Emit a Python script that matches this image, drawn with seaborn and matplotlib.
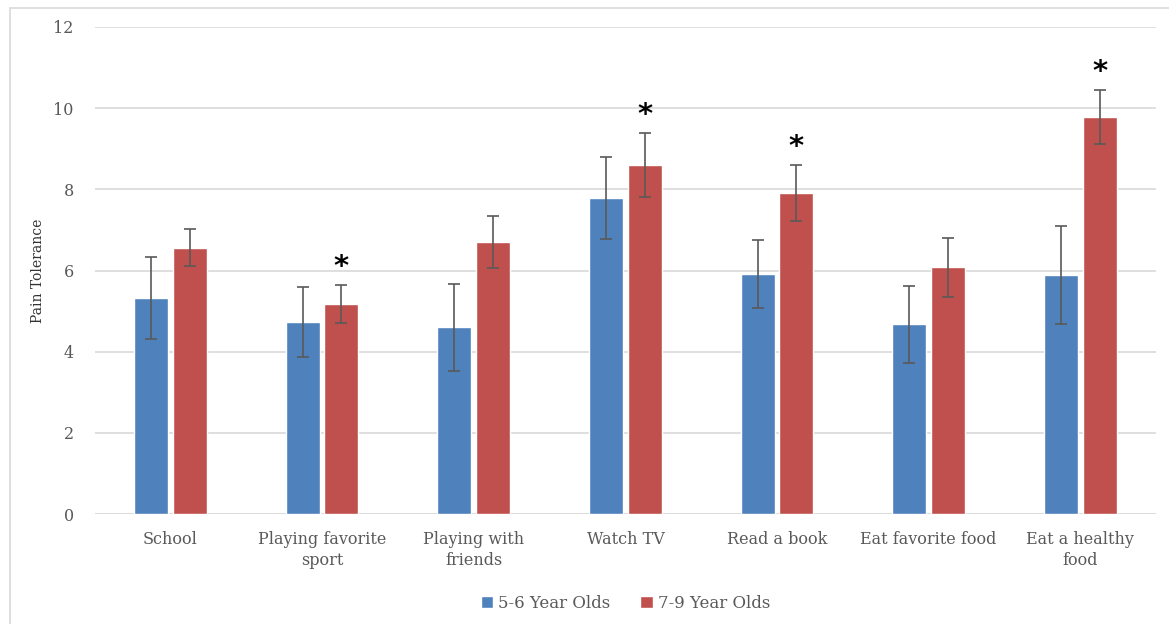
import matplotlib
matplotlib.use("Agg")
import matplotlib.pyplot as plt
import seaborn as sns
import pandas as pd
from matplotlib.patches import Rectangle

categories = ["School", "Playing favorite\nsport", "Playing with\nfriends", "Watch TV",
              "Read a book", "Eat favorite food", "Eat a healthy\nfood"]
groups = ["5-6 Year Olds", "7-9 Year Olds"]
young_mean = [5.32, 4.73, 4.60, 7.78, 5.91, 4.68, 5.89]
young_err = [1.01, 0.87, 1.07, 1.01, 0.83, 0.95, 1.20]
old_mean = [6.56, 5.17, 6.69, 8.60, 7.91, 6.08, 9.78]
old_err = [0.46, 0.47, 0.64, 0.78, 0.68, 0.73, 0.66]
significant = [False, True, False, True, True, False, True]

colors = ["#4F81BD", "#C0504D"]
text_col = "#595959"

sns.set_theme(style="white")
plt.rcParams["font.family"] = ["DejaVu Serif"]

df = pd.DataFrame({
    "Activity": categories * 2,
    "Group": [groups[0]] * 7 + [groups[1]] * 7,
    "Pain Tolerance": young_mean + old_mean,
})

fig = plt.figure(figsize=(11.69, 6.24), dpi=100)
ax = fig.add_axes([0.081, 0.176, 0.908, 0.781])

sns.barplot(data=df, x="Activity", y="Pain Tolerance", hue="Group", order=categories,
            hue_order=groups, palette=colors, errorbar=None, width=0.51, gap=0.12,
            saturation=1, ax=ax)

# error bars and asterisks, positioned on the drawn bars
bars = [p for p in ax.patches if p.get_height() > 0][:14]
means = young_mean + old_mean
errs = young_err + old_err
for i, p in enumerate(bars):
    cx = p.get_x() + p.get_width() / 2
    ax.errorbar(cx, means[i], yerr=errs[i], fmt="none", ecolor="#595959",
                elinewidth=1.2, capsize=4, capthick=1.2, zorder=5)
    if i >= 7 and significant[i - 7]:
        ax.text(cx, means[i] + errs[i] + 0.1, "*", ha="center", va="bottom",
                fontsize=21, fontweight="bold", color="black", family="DejaVu Sans")

ax.set_ylim(0, 12)
ax.set_yticks(range(0, 13, 2))
ax.set_xlim(-0.5, 6.5)
ax.yaxis.grid(True, color="#D9D9D9", linewidth=1.2)
ax.set_axisbelow(True)
for s in ax.spines.values():
    s.set_visible(False)
ax.axhline(0, color="#D9D9D9", linewidth=1.2, zorder=0)
ax.tick_params(axis="both", length=0, labelsize=11.5, colors=text_col, pad=12)
ax.tick_params(axis="y", pad=15)
for t in ax.get_xticklabels():
    t.set_linespacing(1.35)
ax.set_xlabel("")
ax.set_ylabel("Pain Tolerance", fontsize=10, color="#333333", labelpad=6)

leg = ax.legend(loc="upper center", bbox_to_anchor=(0.5, -0.135), ncol=2, frameon=False,
                fontsize=12, handlelength=0.75, handleheight=0.75, handletextpad=0.3,
                columnspacing=1.8)
for t in leg.get_texts():
    t.set_color(text_col)

fig.patches.append(Rectangle((10 / 1169, -0.1), 1.2, 1.1 - 8 / 624, transform=fig.transFigure,
                             fill=False, edgecolor="#D9D9D9", linewidth=1.2))

fig.savefig("out.png", dpi=100)
